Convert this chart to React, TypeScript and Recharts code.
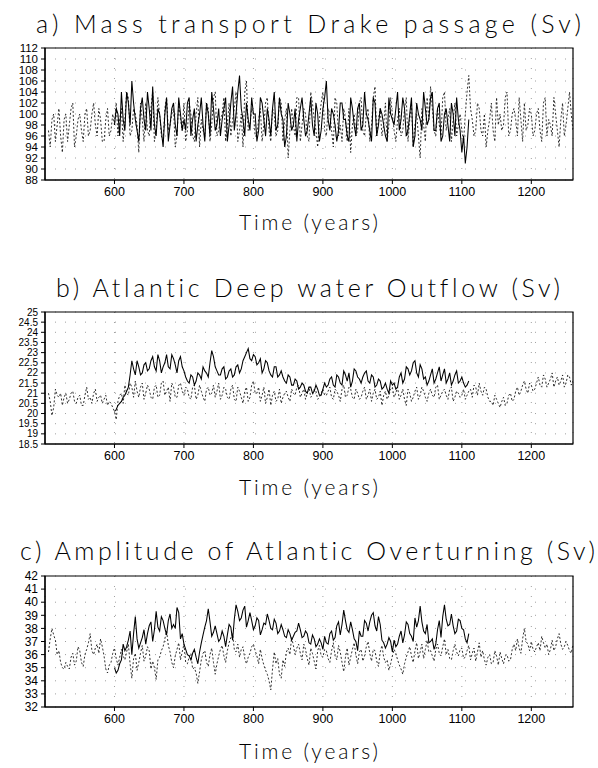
import { LineChart, Line, XAxis, YAxis, CartesianGrid, ReferenceArea } from 'recharts';

// dashed run covers 505..1260, solid run covers 600..1110.
// main arrays sit on the 5-year marks, *Mid arrays on the half-way marks (507.5, 512.5, ...)
const DASH_START = 505;
const SOLID_START = 600;
const STEP = 5;
const xTicks = [600, 700, 800, 900, 1000, 1100, 1200];

// a) Mass transport Drake passage (Sv)
const drakeDashed = [
  97, 99, 95, 101, 93, 100, 98, 102, 96, 100, 95, 101, 97, 102, 96, 99, 95, 101, 97, 98,
  96, 101, 99, 103, 97, 100, 93, 99, 102, 96, 104, 97, 100, 95, 103, 98, 101, 96, 99, 102,
  97, 100, 95, 103, 99, 96, 101, 98, 104, 97, 100, 95, 102, 99, 104, 97, 94, 106, 98, 100,
  96, 101, 98, 103, 95, 100, 97, 102, 99, 92, 101, 96, 103, 98, 100, 95, 102, 97, 99, 104,
  96, 100, 94, 102, 98, 101, 95, 93, 100, 97, 103, 96, 101, 98, 105, 99, 96, 102, 98, 100,
  95, 101, 97, 103, 99, 94, 100, 92, 98, 103, 105, 97, 101, 96, 104, 99, 95, 102, 98, 97,
  100, 107, 99, 97, 101, 96, 94, 99, 97, 103, 100, 98, 104, 97, 101, 96, 99, 102, 98, 100,
  97, 101, 95, 103, 99, 96, 100, 94, 102, 98, 104, 97,
];
const drakeDashedMid = [
  94, 100, 98, 96, 99, 95, 101, 94, 99, 97, 100, 96, 100, 98, 101, 95, 99, 96, 100, 102,
  99, 95, 104, 96, 101, 98, 102, 95, 97, 101, 95, 103, 96, 101, 97, 100, 94, 102, 97, 95,
  102, 96, 100, 94, 97, 102, 95, 103, 96, 99, 103, 98, 96, 101, 95, 100, 104, 97, 101, 96,
  99, 95, 102, 97, 101, 96, 103, 95, 101, 97, 98, 103, 95, 101, 96, 104, 99, 94, 102, 97,
  101, 97, 103, 96, 95, 99, 101, 98, 96, 102, 97, 100, 95, 103, 96, 101, 98, 95, 103, 97,
  99, 96, 101, 95, 102, 98, 96, 101, 95, 99, 101, 96, 98, 103, 97, 101, 99, 96, 100, 95,
  104, 101, 96, 102, 97, 100, 97, 102, 95, 98, 97, 103, 96, 100, 99, 103, 95, 97, 101, 96,
  100, 97, 102, 96, 98, 103, 97, 99, 96, 101, 100,
];
const drakeSolid = [
  98, 100, 104, 97, 102, 106, 99, 95, 103, 97, 101, 105, 96, 100, 94, 103, 98, 102, 96, 100, 99,
  102, 96, 101, 98, 103, 95, 100, 104, 97, 101, 99, 103, 98, 105, 100, 107, 99, 102, 97, 100,
  95, 103, 99, 101, 96, 104, 98, 100, 94, 102, 97, 101, 99, 103, 96, 100, 98, 102, 95, 101,
  106, 97, 100, 95, 102, 99, 96, 103, 98, 101, 97, 104, 99, 95, 102, 98, 100, 96, 103, 99,
  101, 97, 103, 96, 100, 94, 102, 99, 104, 98, 103, 97, 101, 95, 100, 98, 102, 96, 99, 93,
  91, 99,
];
const drakeSolidMid = [
  101, 96, 99, 104, 98, 102, 97, 101, 99, 104, 97, 98, 101, 97, 100, 95, 101, 98, 103, 97,
  97, 103, 99, 95, 100, 98, 102, 96, 101, 98, 96, 101, 95, 102, 97, 104, 101, 96, 99, 103,
  100, 97, 102, 96, 99, 101, 97, 103, 99, 96, 100, 98, 95, 101, 99, 97, 103, 96, 100, 97,
  103, 99, 101, 98, 97, 102, 99, 95, 101, 96, 102, 98, 100, 97, 103, 96, 101, 98, 95, 100,
  98, 104, 99, 101, 97, 103, 96, 100, 97, 101, 99, 104, 97, 102, 96, 101, 95, 100, 103, 97,
  96, 94,
];
const drakeTicks = [88, 90, 92, 94, 96, 98, 100, 102, 104, 106, 108, 110, 112];

// b) Atlantic Deep water Outflow (Sv)
const outflowDashed = [
  21.0, 19.9, 21.2, 20.8, 20.4, 21.0, 20.7, 21.1, 20.5, 20.9, 20.4, 21.3, 20.8, 21.0, 20.6, 20.9, 20.7, 20.4, 20.5, 20.1,
  20.6, 21.0, 21.4, 20.9, 21.3, 21.6, 20.8, 21.5, 21.0, 21.2, 20.7, 21.4, 20.9, 21.6, 21.1, 20.6, 21.3, 20.8, 21.5, 20.9,
  21.2, 20.7, 21.4, 20.9, 21.1, 20.6, 21.3, 21.0, 20.8, 21.5, 20.9, 21.2, 20.7, 21.4, 20.6, 21.1, 20.5, 21.3, 20.8, 21.6,
  21.0, 20.6, 21.3, 20.8, 20.4, 21.1, 20.7, 20.5, 21.0, 20.8, 21.2, 20.9, 21.4, 21.0, 20.7, 21.3, 20.9, 21.1, 20.8, 21.2,
  20.9, 21.3, 20.7, 21.1, 20.6, 21.4, 20.9, 21.2, 20.7, 21.0, 20.8, 21.3, 20.9, 20.6, 21.2, 20.8, 20.4, 21.1, 20.9, 21.3,
  21.0, 20.7, 21.2, 20.4, 21.0, 20.8, 21.3, 20.9, 21.1, 20.6, 21.2, 20.8, 21.4, 20.9, 21.2, 20.7, 21.3, 20.8, 21.0, 20.9,
  20.7, 21.1, 20.8, 21.3, 21.5, 20.9, 21.2, 20.6, 20.4, 20.7, 20.3, 20.8, 20.5, 21.0, 20.7, 21.3, 21.1, 21.6, 21.0, 21.4,
  21.2, 21.8, 21.3, 21.7, 21.5, 22.0, 21.6, 21.4, 21.9, 21.5, 21.8, 21.6,
];
const outflowDashedMid = [
  20.6, 20.3, 20.9, 21.0, 20.8, 20.5, 21.0, 20.6, 20.8, 20.4, 20.9, 20.7, 20.5, 21.2, 20.8, 20.5, 20.9, 20.6, 20.3, 19.7,
  20.9, 20.5, 21.0, 21.5, 20.8, 21.1, 21.3, 20.7, 21.4, 20.8, 21.3, 20.8, 21.5, 20.9, 21.3, 21.5, 20.8, 21.4, 21.1, 21.3,
  20.8, 21.3, 20.7, 21.4, 20.8, 21.2, 20.9, 21.4, 21.1, 20.7, 21.3, 20.8, 21.2, 20.7, 21.3, 20.8, 21.1, 20.6, 21.4, 21.0,
  21.3, 20.9, 20.5, 21.2, 20.9, 20.6, 21.2, 20.8, 21.1, 20.6, 21.0, 21.3, 20.8, 21.2, 21.0, 20.8, 21.2, 20.7, 21.0, 20.9,
  21.1, 20.8, 21.2, 20.9, 21.2, 20.8, 21.3, 20.8, 21.2, 20.7, 21.1, 20.7, 21.2, 21.0, 20.7, 21.1, 20.9, 20.7, 21.2, 20.8,
  21.3, 20.9, 20.7, 21.2, 20.6, 21.1, 20.7, 21.3, 20.8, 21.0, 20.9, 21.3, 20.7, 21.1, 20.9, 21.2, 20.6, 21.1, 20.8, 21.2,
  20.9, 21.2, 21.4, 20.9, 21.1, 21.3, 20.8, 20.6, 20.9, 20.5, 20.6, 20.4, 20.9, 20.6, 21.1, 20.9, 21.4, 21.2, 21.5, 21.1,
  21.5, 21.4, 21.9, 21.3, 21.7, 21.3, 21.8, 21.6, 21.3, 21.9, 21.4,
];
const outflowSolid = [
  20.1, 20.4, 20.6, 20.9, 21.3, 22.6, 21.9, 22.3, 22.0, 22.5, 22.2, 22.8, 22.1, 22.6, 22.3, 22.9, 22.2, 22.7, 22.0, 22.8, 22.1,
  21.6, 21.9, 21.4, 22.0, 21.7, 22.1, 21.8, 23.1, 22.3, 21.9, 22.2, 21.7, 22.1, 21.8, 22.3, 22.0, 22.6, 23.0, 22.7, 22.9,
  22.4, 22.7, 22.2, 22.5, 21.9, 22.3, 21.8, 22.1, 21.6, 21.9, 21.4, 21.7, 21.2, 21.5, 21.1, 21.3, 21.0, 21.4, 20.9, 21.2,
  21.3, 21.7, 21.4, 21.9, 21.5, 22.1, 21.6, 21.3, 22.2, 21.8, 21.5, 22.0, 21.6, 21.9, 21.3, 21.7, 21.2, 21.5, 21.0, 21.4,
  21.2, 21.8, 21.5, 22.3, 21.9, 22.5, 22.0, 22.4, 21.7, 21.4, 21.9, 21.5, 22.0, 21.6, 22.2, 21.7, 21.4, 21.9, 21.5, 21.8,
  21.3, 21.6,
];
const outflowSolidMid = [
  20.2, 20.5, 20.8, 21.1, 21.9, 22.2, 22.6, 21.9, 22.4, 22.1, 22.6, 22.3, 22.9, 22.0, 22.5, 22.3, 22.9, 22.4, 22.6, 22.3,
  21.8, 21.5, 21.8, 21.6, 21.9, 22.3, 22.0, 22.5, 22.8, 22.1, 21.9, 22.3, 21.8, 22.2, 21.9, 22.4, 22.2, 22.8, 23.2, 22.6,
  22.8, 22.5, 22.0, 22.6, 22.1, 21.8, 22.3, 21.9, 21.8, 21.5, 21.8, 21.4, 21.6, 21.3, 21.4, 21.0, 21.3, 21.1, 21.2, 20.9,
  21.5, 21.4, 21.8, 21.3, 21.8, 21.4, 21.9, 22.0, 21.6, 22.1, 21.7, 21.8, 22.1, 21.5, 21.8, 21.4, 21.6, 21.3, 21.2, 21.6,
  21.5, 21.3, 22.0, 21.7, 22.2, 22.1, 22.6, 21.8, 22.2, 21.8, 21.6, 22.2, 21.7, 22.3, 21.9, 21.5, 22.0, 21.6, 22.1, 21.6,
  21.5, 21.4,
];
const outflowTicks = [18.5, 19, 19.5, 20, 20.5, 21, 21.5, 22, 22.5, 23, 23.5, 24, 24.5, 25];

// c) Amplitude of Atlantic Overturning (Sv)
const overturnDashed = [
  36.2, 38.0, 37.1, 36.3, 35.0, 35.4, 34.9, 36.1, 35.5, 36.3, 35.1, 36.4, 37.6, 36.0, 36.8, 37.2, 35.9, 34.6, 35.4, 36.5,
  35.2, 36.4, 35.6, 36.8, 34.2, 36.1, 35.4, 36.7, 35.9, 36.3, 35.5, 34.1, 35.8, 36.6, 37.8, 36.2, 35.0, 36.4, 35.6, 36.8,
  35.3, 36.1, 35.0, 33.8, 35.6, 36.3, 35.1, 36.5, 34.5, 35.9, 36.7, 35.4, 36.9, 37.6, 36.2, 35.8, 36.6, 35.3, 36.1, 36.8,
  35.9, 36.4, 35.2, 34.5, 33.3, 36.2, 35.7, 34.2, 35.1, 36.5, 37.3, 36.0, 36.8, 35.6, 36.4, 35.2, 36.1, 34.9, 36.7, 35.8,
  36.3, 35.4, 36.9, 35.6, 36.2, 34.7, 36.5, 35.8, 36.9, 35.3, 36.4, 35.9, 37.0, 35.5, 36.3, 35.1, 36.7, 35.4, 34.8, 35.9,
  36.1, 35.2, 34.5, 35.8, 36.6, 35.4, 36.9, 36.2, 35.7, 37.1, 36.3, 35.5, 36.8, 35.9, 37.2, 36.4, 35.6, 36.8, 35.9, 36.5,
  35.8, 36.7, 36.1, 35.5, 36.9, 36.3, 35.2, 36.0, 35.4, 35.9, 36.2, 35.3, 36.0, 35.6, 36.8, 37.2, 36.1, 38.0, 36.8, 37.0,
  36.2, 36.9, 37.4, 36.5, 36.0, 37.1, 36.6, 37.6, 36.4, 37.0, 36.3, 36.8,
];
const overturnDashedMid = [
  37.2, 37.5, 36.0, 35.4, 34.9, 35.1, 35.8, 35.2, 36.6, 35.4, 36.0, 36.9, 36.3, 36.5, 36.1, 36.6, 34.9, 35.2, 36.1, 35.7,
  35.8, 35.9, 36.2, 35.3, 35.7, 34.8, 36.1, 35.5, 36.6, 34.9, 35.0, 35.6, 36.3, 37.2, 36.7, 35.4, 35.9, 36.9, 36.2, 35.4,
  35.8, 34.9, 34.6, 34.7, 36.1, 35.4, 36.0, 35.4, 35.3, 36.4, 35.9, 36.3, 37.3, 36.4, 36.8, 36.4, 35.7, 35.8, 36.6, 36.3,
  35.3, 35.7, 34.8, 34.0, 34.9, 35.3, 34.5, 35.6, 36.2, 36.0, 36.7, 36.5, 36.1, 36.8, 35.7, 36.5, 35.5, 36.3, 35.9, 36.4,
  35.7, 36.3, 35.9, 36.7, 35.4, 35.8, 35.2, 36.4, 36.0, 36.2, 35.5, 36.6, 36.1, 36.4, 35.5, 36.2, 35.8, 35.6, 35.3, 36.4,
  35.6, 34.9, 35.3, 36.2, 35.9, 36.3, 35.7, 36.8, 36.4, 36.2, 35.9, 36.4, 36.1, 36.6, 36.0, 35.7, 36.3, 36.2, 36.4, 35.7,
  36.3, 35.6, 36.5, 36.2, 35.8, 35.6, 35.8, 35.3, 36.3, 35.2, 35.7, 35.9, 35.5, 36.4, 36.3, 36.5, 37.2, 37.0, 36.3, 36.4,
  36.6, 36.3, 36.9, 36.8, 36.4, 36.3, 37.2, 36.8, 36.6, 36.7, 36.1,
];
const overturnSolid = [
  35.0, 34.8, 35.6, 36.3, 37.1, 36.0, 38.9, 36.5, 37.3, 36.8, 38.2, 37.0, 39.3, 37.8, 38.6, 37.5, 39.1, 38.3, 39.6, 37.2, 36.8,
  36.0, 35.6, 36.4, 35.3, 36.9, 38.1, 39.5, 37.4, 38.2, 37.0, 37.8, 36.6, 38.3, 37.1, 39.8, 38.6, 39.4, 38.1, 39.2, 37.9,
  38.8, 37.5, 38.4, 39.1, 38.0, 38.7, 37.6, 38.3, 37.4, 37.9, 37.1, 37.7, 38.4, 37.3, 37.8, 36.9, 37.5, 36.6, 37.2, 36.4,
  36.9, 37.6, 37.1, 38.2, 37.5, 39.4, 37.9, 38.5, 37.2, 36.3, 37.4, 38.6, 37.8, 39.0, 38.2, 38.9, 37.1, 36.5, 37.3, 36.2,
  36.6, 37.4, 36.9, 38.5, 37.6, 37.0, 38.1, 39.7, 37.8, 38.3, 37.0, 36.4, 37.9, 37.3, 39.8, 38.2, 39.1, 37.6, 38.7, 38.0,
  37.2, 37.6,
];
const overturnSolidMid = [
  34.6, 35.3, 36.8, 36.6, 37.8, 37.6, 37.2, 36.9, 37.9, 37.6, 38.5, 37.9, 38.1, 38.9, 38.0, 38.6, 38.0, 38.0, 39.2, 37.6,
  36.4, 35.9, 36.1, 35.8, 36.2, 37.5, 38.6, 38.5, 37.7, 37.6, 37.2, 37.4, 37.5, 38.1, 38.7, 39.3, 38.8, 39.7, 38.6, 38.6,
  38.2, 38.6, 37.9, 38.3, 38.6, 37.9, 38.4, 37.8, 37.9, 37.3, 37.6, 37.4, 37.8, 37.9, 37.4, 37.6, 36.8, 37.2, 36.8, 36.9,
  37.4, 36.8, 37.8, 37.3, 38.5, 38.3, 38.6, 37.7, 37.9, 37.0, 37.8, 37.4, 38.4, 38.5, 39.2, 37.8, 38.3, 36.9, 36.8, 37.0,
  37.1, 36.8, 37.8, 37.5, 38.3, 37.4, 38.8, 38.6, 38.5, 37.6, 36.9, 37.2, 36.8, 38.6, 38.9, 38.7, 38.3, 38.2, 37.8, 38.6,
  37.9, 36.9,
];
const overturnTicks = [32, 33, 34, 35, 36, 37, 38, 39, 40, 41, 42];

const pick = (arr: number[], year: number, start: number) => {
  const j = (year - start) / STEP;
  return j >= 0 && j < arr.length ? arr[j] : null;
};

const buildRows = (dashed: number[], dashedMid: number[], solid: number[], solidMid: number[]) => {
  const rows: { year: number; dashed: number; solid: number | null }[] = [];
  dashed.forEach((v, i) => {
    const year = DASH_START + i * STEP;
    rows.push({ year, dashed: v, solid: pick(solid, year, SOLID_START) });
    if (i < dashedMid.length) {
      const half = year + STEP / 2;
      rows.push({ year: half, dashed: dashedMid[i], solid: pick(solidMid, half, SOLID_START + STEP / 2) });
    }
  });
  return rows;
};

const W = 598;
const PLOT_LEFT = 45;
const PLOT_RIGHT = 573;
const TOP_PAD = 8;

interface PanelProps {
  top: number;
  plotHeight: number;
  dashed: number[];
  dashedMid: number[];
  solid: number[];
  solidMid: number[];
  ticks: number[];
  labelSize: number;
}

const Panel = ({ top, plotHeight, dashed, dashedMid, solid, solidMid, ticks, labelSize }: PanelProps) => {
  const data = buildRows(dashed, dashedMid, solid, solidMid);
  const yMin = ticks[0];
  const yMax = ticks[ticks.length - 1];
  return (
    <div style={{ position: 'absolute', left: 0, top: top - TOP_PAD }}>
      <LineChart
        width={W}
        height={plotHeight + TOP_PAD + 26}
        data={data}
        margin={{ top: TOP_PAD, right: W - PLOT_RIGHT, bottom: 0, left: 5 }}
      >
        <CartesianGrid stroke="#a0a0a0" strokeDasharray="1 9" />
        <XAxis
          dataKey="year"
          type="number"
          domain={[500, 1260]}
          ticks={xTicks}
          allowDataOverflow
          height={26}
          tickSize={4}
          tickMargin={3}
          interval={0}
          axisLine={{ stroke: '#000', strokeWidth: 1.2 }}
          tickLine={{ stroke: '#000' }}
          tick={{ fill: '#000', fontSize: 12.5, fontFamily: 'Liberation Sans, Arial, sans-serif' }}
        />
        <YAxis
          type="number"
          domain={[yMin, yMax]}
          ticks={ticks}
          interval={0}
          allowDataOverflow
          width={PLOT_LEFT - 5}
          tickSize={4}
          tickMargin={3}
          axisLine={{ stroke: '#000', strokeWidth: 1.2 }}
          tickLine={{ stroke: '#000' }}
          tickFormatter={(v) => String(v)}
          tick={{ fill: '#000', fontSize: labelSize, fontFamily: 'Liberation Sans, Arial, sans-serif' }}
        />
        <ReferenceArea x1={500} x2={1260} y1={yMin} y2={yMax} fill="none" stroke="#000" strokeWidth={1.2} ifOverflow="visible" />
        <Line
          type="linear"
          dataKey="dashed"
          stroke="#1a1a1a"
          strokeWidth={0.9}
          strokeDasharray="2 2"
          dot={false}
          isAnimationActive={false}
        />
        <Line
          type="linear"
          dataKey="solid"
          stroke="#000"
          strokeWidth={1.05}
          dot={false}
          connectNulls={false}
          isAnimationActive={false}
        />
      </LineChart>
    </div>
  );
};

const titleFont = 'Lato, "Open Sans", "DejaVu Sans", sans-serif';

export default function App() {
  return (
    <div style={{ position: 'absolute', left: 0, top: 0, width: W, height: 768, background: '#fff' }}>
      <Panel top={48} plotHeight={132} dashed={drakeDashed} dashedMid={drakeDashedMid} solid={drakeSolid} solidMid={drakeSolidMid} ticks={drakeTicks} labelSize={11.5} />
      <Panel top={312} plotHeight={132} dashed={outflowDashed} dashedMid={outflowDashedMid} solid={outflowSolid} solidMid={outflowSolidMid} ticks={outflowTicks} labelSize={10} />
      <Panel top={576} plotHeight={131} dashed={overturnDashed} dashedMid={overturnDashedMid} solid={overturnSolid} solidMid={overturnSolidMid} ticks={overturnTicks} labelSize={12} />
      <svg
        width={W}
        height={768}
        style={{ position: 'absolute', left: 0, top: 0, pointerEvents: 'none', fontVariantLigatures: 'none' }}
      >
        <g fill="#000" fontFamily={titleFont} fontWeight={300}>
          <text x={36} y={33} fontSize={25} textLength={545} lengthAdjust="spacing">
            a) Mass transport Drake passage (Sv)
          </text>
          <text x={56} y={297} fontSize={25} textLength={504} lengthAdjust="spacing">
            b) Atlantic Deep water Outflow (Sv)
          </text>
          <text x={20} y={560} fontSize={25} textLength={575} lengthAdjust="spacing">
            c) Amplitude of Atlantic Overturning (Sv)
          </text>
          <text x={239} y={230} fontSize={21} textLength={139} lengthAdjust="spacing">
            Time (years)
          </text>
          <text x={239} y={495} fontSize={21} textLength={139} lengthAdjust="spacing">
            Time (years)
          </text>
          <text x={239} y={759} fontSize={21} textLength={139} lengthAdjust="spacing">
            Time (years)
          </text>
        </g>
      </svg>
    </div>
  );
}
